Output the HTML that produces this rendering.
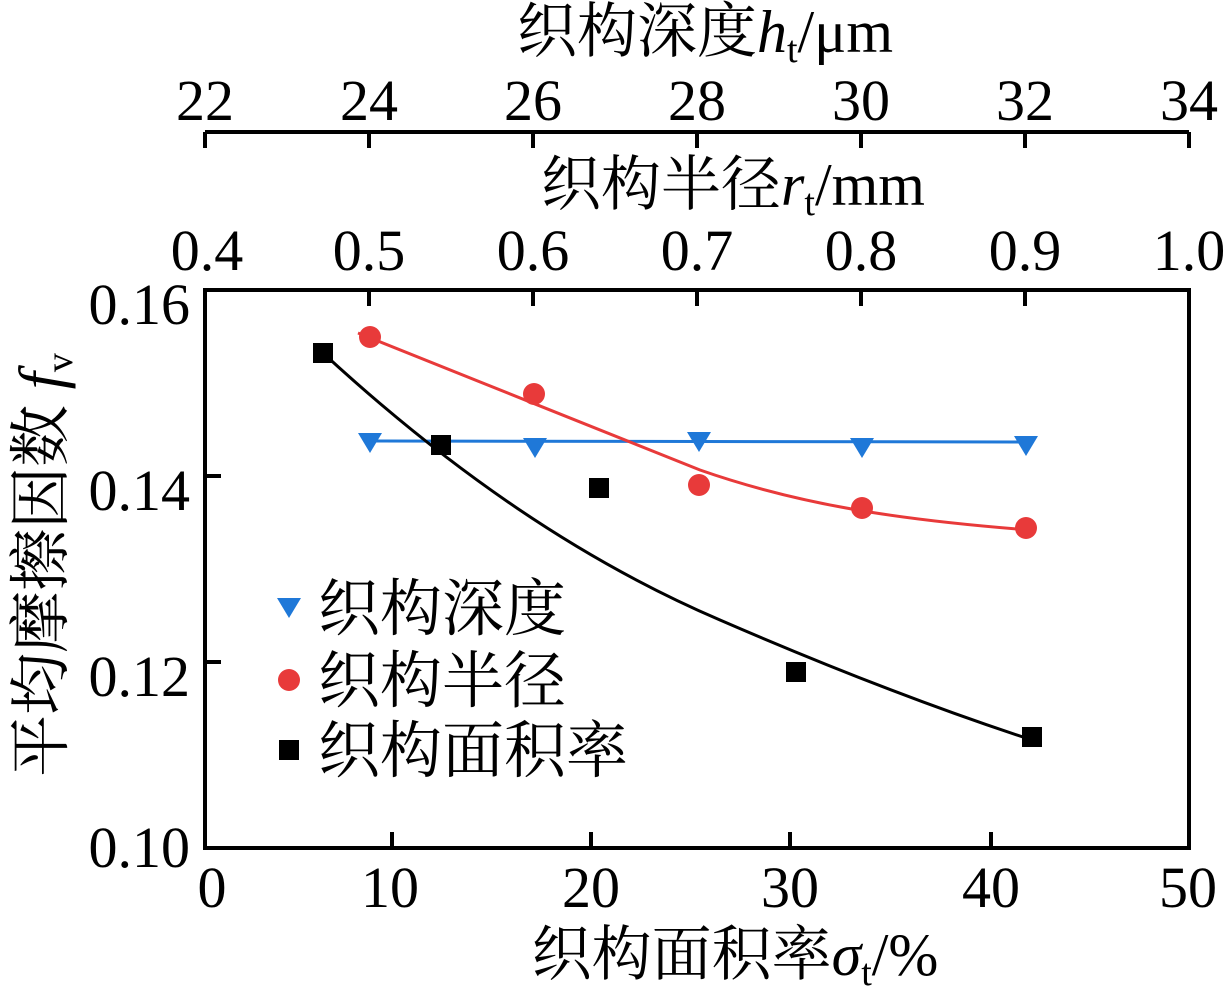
<!DOCTYPE html>
<html><head><meta charset="utf-8"><style>
body{margin:0;background:#fff}
svg text{font-family:"Liberation Serif","Noto Serif CJK SC",serif;fill:#000}
.cj{font-family:"Liberation Serif","Noto Serif CJK SC",serif}
</style></head><body>
<svg width="1230" height="988" viewBox="0 0 1230 988" xmlns="http://www.w3.org/2000/svg">
<g stroke="#000" stroke-width="4" fill="none">
<rect x="205" y="290" width="984" height="558"/>
<path d="M205,132H1189"/>
<path d="M205,132v16M369,132v16M533,132v16M697,132v16M861,132v16M1025,132v16M1189,132v16"/>
<path d="M369,290v16M533,290v16M697,290v16M861,290v16M1025,290v16"/>
<path d="M392,848v-16M591,848v-16M790,848v-16M991,848v-16"/>
<path d="M205,476h16M205,662h16"/>
</g>
<g font-size="58" text-anchor="middle">
<text x="205" y="120">22</text><text x="369" y="120">24</text><text x="533" y="120">26</text><text x="697" y="120">28</text><text x="861" y="120">30</text><text x="1025" y="120">32</text><text x="1189" y="120">34</text>
<text x="207" y="270">0.4</text><text x="369" y="270">0.5</text><text x="533" y="270">0.6</text><text x="697" y="270">0.7</text><text x="861" y="270">0.8</text><text x="1025" y="270">0.9</text><text x="1189" y="270">1.0</text>
<text x="212" y="907">0</text><text x="390" y="907">10</text><text x="591" y="907">20</text><text x="790" y="907">30</text><text x="991" y="907">40</text><text x="1188" y="907">50</text>
</g>
<g font-size="58" text-anchor="end">
<text x="190" y="324">0.16</text><text x="190" y="510">0.14</text><text x="190" y="696">0.12</text><text x="190" y="867">0.10</text>
</g>
<text x="705" y="52" font-size="60" text-anchor="middle" class="cj">织构深度<tspan font-style="italic">h</tspan><tspan font-size="38" dy="10">t</tspan><tspan dy="-10">/μm</tspan></text>
<text x="733" y="205" font-size="60" text-anchor="middle" class="cj">织构半径<tspan font-style="italic">r</tspan><tspan font-size="38" dy="10">t</tspan><tspan dy="-10">/mm</tspan></text>
<text x="735" y="975" font-size="60" text-anchor="middle" class="cj">织构面积率<tspan font-style="italic">σ</tspan><tspan font-size="38" dy="10">t</tspan><tspan dy="-10">/%</tspan></text>
<text transform="translate(62,565) rotate(-90)" font-size="62" text-anchor="middle" class="cj">平均摩擦因数 <tspan font-style="italic">f</tspan><tspan font-size="38" dy="10">v</tspan></text>
<path d="M370,441L1026,442" stroke="#1f78d8" stroke-width="3" fill="none"/>
<path d="M358,333C450,370 600,430 700,470C800,505 900,520 1030,530" stroke="#e83a3a" stroke-width="3" fill="none"/>
<path d="M323,353C450,470 580,560 720,620C840,672 940,710 1032,740" stroke="#000" stroke-width="3" fill="none"/>
<g fill="#1f78d8">
<path d="M358,433h24l-12,20z"/><path d="M523,438h24l-12,20z"/><path d="M687,432h24l-12,20z"/><path d="M850,438h24l-12,20z"/><path d="M1014,436h24l-12,20z"/>
<path d="M277,598h24l-12,20z"/>
</g>
<g fill="#e83a3a">
<circle cx="370" cy="337" r="11"/><circle cx="534" cy="394" r="11"/><circle cx="699" cy="485" r="11"/><circle cx="862" cy="508" r="11"/><circle cx="1026" cy="528" r="11"/>
<circle cx="289" cy="680" r="11"/>
</g>
<g fill="#000">
<rect x="313" y="343" width="20" height="20"/><rect x="431" y="435" width="20" height="20"/><rect x="589" y="478" width="20" height="20"/><rect x="786" y="662" width="20" height="20"/><rect x="1022" y="727" width="20" height="20"/>
<rect x="279" y="740" width="20" height="20"/>
</g>
<g font-size="62" class="cj">
<text x="318" y="630">织构深度</text>
<text x="318" y="702">织构半径</text>
<text x="318" y="772">织构面积率</text>
</g>
</svg>
</body></html>
